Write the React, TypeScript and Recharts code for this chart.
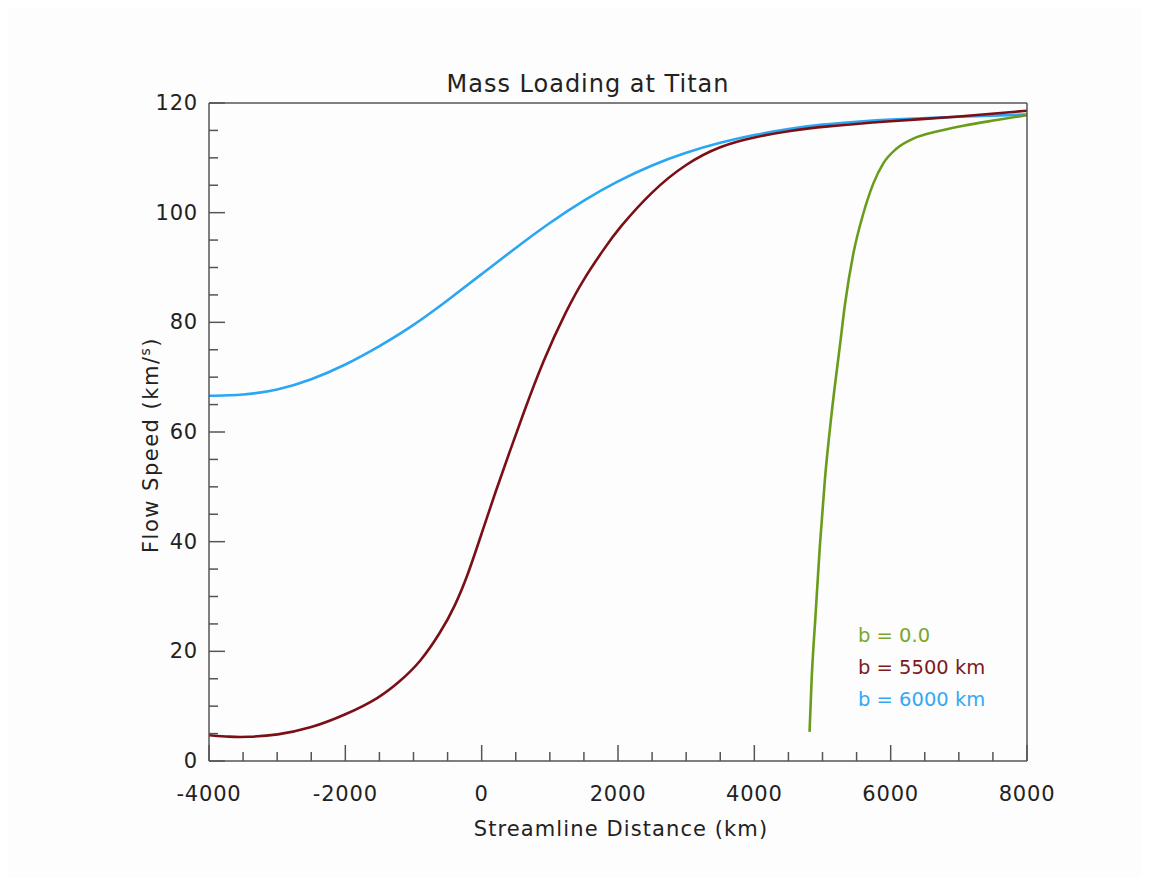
import React from "react";
import { LineChart, Line, XAxis, YAxis } from "recharts";

const xTicks = [-4000,-3500,-3000,-2500,-2000,-1500,-1000,-500,0,500,1000,1500,2000,2500,3000,3500,4000,4500,5000,5500,6000,6500,7000,7500,8000];
const xMajor = [-4000,-2000,0,2000,4000,6000,8000];
const yTicks = [0,5,10,15,20,25,30,35,40,45,50,55,60,65,70,75,80,85,90,95,100,105,110,115,120];
const yMajor = [0,20,40,60,80,100,120];

const b0X = [4810,4840,4900,4960,5035,5135,5255,5330,5452,5598,5745,5892,6088,6332,6675,7065,7555,8000];
const b0Y = [5.3,14.7,27,39,51.3,63.5,75.7,83.3,92.5,99.8,105.3,109,111.7,113.5,114.8,115.85,116.9,117.8];

const b5500X = [-4000,-3700,-3450,-3000,-2500,-2000,-1500,-1200,-900,-600,-400,-200,0,200,400,600,900,1250,1500,1800,2000,2500,3000,3500,4000,4500,5000,6000,7000,8000];
const b5500Y = [4.7,4.4,4.35,4.7,6.0,8.4,11.5,14.5,18,23.5,28,34,41.5,49,56,63,73,82.4,88,93.5,97,104,109,112.2,113.8,114.9,115.7,116.7,117.5,118.6];

const b6000X = [-4000,-3500,-3000,-2500,-2000,-1500,-1000,-500,0,500,1000,1500,2000,2500,3000,3500,4000,4500,5000,5500,6000,7000,8000];
const b6000Y = [66.6,66.7,67.6,69.5,72.2,75.6,79.4,84,88.8,93.6,98.2,102.3,105.8,108.7,111,112.8,114.2,115.3,116.1,116.6,117,117.5,117.9];

const legendLabels = ["b = 0.0", "b = 5500 km", "b = 6000 km"];
const lineColors = ["#6a9c1c", "#7a0f16", "#2aa6f2"];
const legendColors = ["#7aa62c", "#7d1a20", "#35a8f5"];

const toPts = (xs: number[], ys: number[]) => xs.map((x, i) => ({ x, y: ys[i] }));
const s0 = toPts(b0X, b0Y);
const s1 = toPts(b5500X, b5500Y);
const s2 = toPts(b6000X, b6000Y);

const FONT = "'DejaVu Sans', Verdana, sans-serif";
const AXIS = "#555";

const LeftTick = (props: any) => {
  const { x, y, payload } = props;
  const major = yMajor.includes(payload.value);
  return (
    <g>
      <line x1={x} y1={y} x2={x + (major ? 16 : 9)} y2={y} stroke={AXIS} strokeWidth={1.5} />
      {major && (
        <text x={x - 11} y={y} dy={7} textAnchor="end" fontSize={21} fontFamily={FONT} fill="#222" letterSpacing={0.8}>
          {payload.value}
        </text>
      )}
    </g>
  );
};

const RightTick = (props: any) => {
  const { x, y, payload } = props;
  const major = yMajor.includes(payload.value);
  return <line x1={x} y1={y} x2={x - (major ? 16 : 9)} y2={y} stroke={AXIS} strokeWidth={1.5} />;
};

const BottomTick = (props: any) => {
  const { x, y, payload } = props;
  const major = xMajor.includes(payload.value);
  return (
    <g>
      <line x1={x} y1={y} x2={x} y2={y - (major ? 16 : 9)} stroke={AXIS} strokeWidth={1.5} />
      {major && (
        <text x={x} y={y + 40} textAnchor="middle" fontSize={21} fontFamily={FONT} fill="#222" letterSpacing={0.8}>
          {payload.value}
        </text>
      )}
    </g>
  );
};

export default function App() {
  return (
    <div style={{ width: 1133, height: 870, background: "#fdfdfd", position: "relative" }}>
      <LineChart width={1133} height={870} margin={{ top: 90, right: 104, bottom: 67, left: 141 }}>
        <XAxis
          xAxisId="b"
          dataKey="x"
          type="number"
          domain={[-4000, 8000]}
          ticks={xTicks}
          interval={0}
          height={50}
          tickSize={0}
          tickMargin={0}
          tickLine={false}
          tick={<BottomTick />}
          axisLine={{ stroke: AXIS, strokeWidth: 1.5 }}
          allowDataOverflow
        />
        <XAxis
          xAxisId="t"
          orientation="top"
          dataKey="x"
          type="number"
          domain={[-4000, 8000]}
          height={5}
          tick={false}
          tickLine={false}
          axisLine={{ stroke: AXIS, strokeWidth: 1.5 }}
        />
        <YAxis
          yAxisId="l"
          type="number"
          domain={[0, 120]}
          ticks={yTicks}
          interval={0}
          width={60}
          tickSize={0}
          tickMargin={0}
          tickLine={false}
          tick={<LeftTick />}
          axisLine={{ stroke: AXIS, strokeWidth: 1.5 }}
          allowDataOverflow
        />
        <YAxis
          yAxisId="r"
          orientation="right"
          type="number"
          domain={[0, 120]}
          ticks={yTicks}
          interval={0}
          width={10}
          tickSize={0}
          tickMargin={0}
          tickLine={false}
          tick={<RightTick />}
          axisLine={{ stroke: AXIS, strokeWidth: 1.5 }}
        />
        <Line xAxisId="b" yAxisId="l" data={s2} dataKey="y" type="basis" stroke={lineColors[2]} strokeWidth={2.6} dot={false} isAnimationActive={false} />
        <Line xAxisId="b" yAxisId="l" data={s1} dataKey="y" type="basis" stroke={lineColors[1]} strokeWidth={2.6} dot={false} isAnimationActive={false} />
        <Line xAxisId="b" yAxisId="l" data={s0} dataKey="y" type="monotone" stroke={lineColors[0]} strokeWidth={2.6} dot={false} isAnimationActive={false} />
        <text x={580} y={84} textAnchor="middle" fontSize={24} fontFamily={FONT} fill="#222" letterSpacing={1}>
          Mass Loading at Titan
        </text>
        <text x={613} y={828} textAnchor="middle" fontSize={21} fontFamily={FONT} fill="#222" letterSpacing={1.1}>
          Streamline Distance (km)
        </text>
        <text x={143} y={437} textAnchor="middle" fontSize={21} fontFamily={FONT} fill="#222" letterSpacing={1.5} transform="rotate(-90 143 437)" dy={7}>
          Flow Speed (km/<tspan fontSize={14} dy={-8}>s</tspan><tspan dy={8}>)</tspan>
        </text>
        {legendLabels.map((l, i) => (
          <text key={l} x={850} y={634 + i * 32} fontSize={19.5} fontFamily={FONT} fill={legendColors[i]}>
            {l}
          </text>
        ))}
      </LineChart>
    </div>
  );
}
